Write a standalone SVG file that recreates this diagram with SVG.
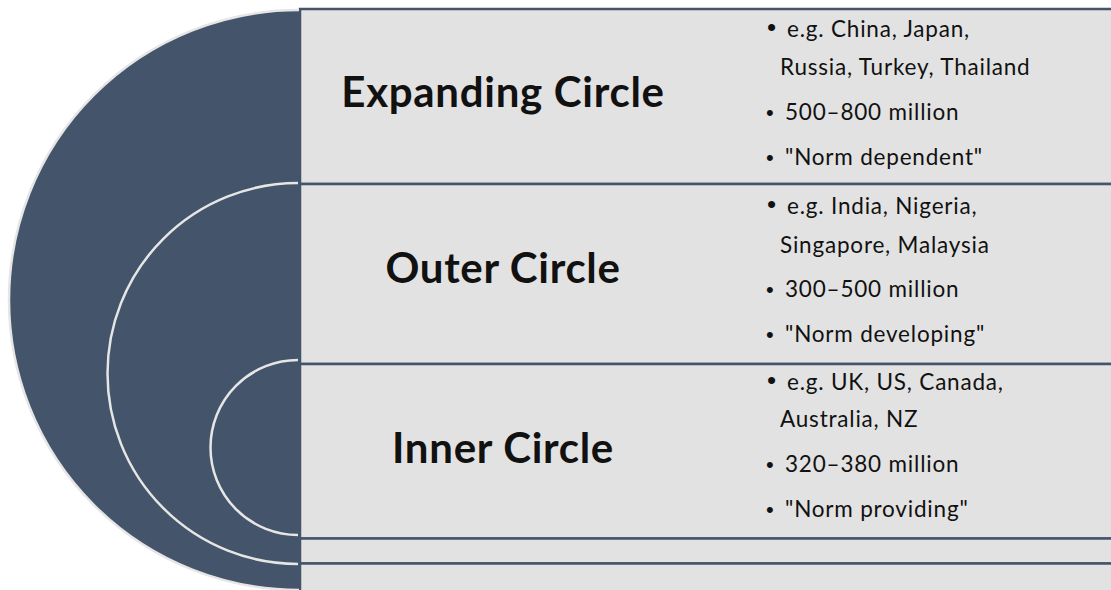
<svg xmlns="http://www.w3.org/2000/svg" width="1111" height="590" viewBox="0 0 1111 590">
  <style>
    .panel { fill: #e2e2e2; stroke: #44546a; stroke-width: 2.5; }
    .ring { fill: #44546a; stroke: none; }
    .edge { fill: none; stroke: #e6e6e6; stroke-width: 2.5; }
    .title { font-family: Lato, "Liberation Sans", sans-serif; font-weight: 700; font-size: 42px; letter-spacing: 0.7px; fill: #111; text-anchor: middle; }
    .item { font-family: Lato, "Liberation Sans", sans-serif; font-size: 22.5px; letter-spacing: 0.8px; fill: #111; }
    .bul { font-family: "Liberation Sans", sans-serif; font-size: 22px; fill: #111; }
    .bul1 { font-family: "Liberation Sans", sans-serif; font-size: 26px; fill: #111; }
  </style>
  <rect width="1111" height="590" fill="#ffffff"/>
  <g id="connectors"></g>
  <g id="panels">
    <rect class="panel" x="300" y="9" width="830" height="175"/>
    <rect class="panel" x="300" y="184" width="830" height="180"/>
    <rect class="panel" x="300" y="364" width="830" height="174.5"/>
    <rect class="panel" x="300" y="538.5" width="830" height="25"/>
    <rect class="panel" x="300" y="563.5" width="830" height="40"/>
  </g>
  <g id="circles">
    <path class="ring" d="M 299 10 A 290 290 0 0 0 299 590 Z"/>
    <path class="edge" d="M 299 10 A 290 290 0 0 0 299 590"/>
    <path class="edge" d="M 298 183 A 190.5 190.5 0 0 0 298 564"/>
    <path class="edge" d="M 298 360 A 87.5 87.5 0 0 0 298 535"/>
  </g>
  <g id="expanding">
    <text class="title" x="503" y="107">Expanding Circle</text>
    <text class="bul1" x="767" y="36">•</text>
    <text class="item" x="787" y="37">e.g. China, Japan,</text>
    <text class="item" x="780" y="75">Russia, Turkey, Thailand</text>
    <text class="bul" x="766" y="120">•</text>
    <text class="item" x="785" y="120">500–800 million</text>
    <text class="bul" x="766" y="165">•</text>
    <text class="item" x="785" y="165">"Norm dependent"</text>
  </g>
  <g id="outer">
    <text class="title" x="503" y="283">Outer Circle</text>
    <text class="bul1" x="767" y="213">•</text>
    <text class="item" x="787" y="214">e.g. India, Nigeria,</text>
    <text class="item" x="780" y="253">Singapore, Malaysia</text>
    <text class="bul" x="766" y="297">•</text>
    <text class="item" x="785" y="297">300–500 million</text>
    <text class="bul" x="766" y="342">•</text>
    <text class="item" x="785" y="342">"Norm developing"</text>
  </g>
  <g id="inner">
    <text class="title" x="503" y="463">Inner Circle</text>
    <text class="bul1" x="767" y="389">•</text>
    <text class="item" x="787" y="390">e.g. UK, US, Canada,</text>
    <text class="item" x="780" y="427">Australia, NZ</text>
    <text class="bul" x="766" y="472">•</text>
    <text class="item" x="785" y="472">320–380 million</text>
    <text class="bul" x="766" y="517">•</text>
    <text class="item" x="785" y="517">"Norm providing"</text>
  </g>
</svg>
